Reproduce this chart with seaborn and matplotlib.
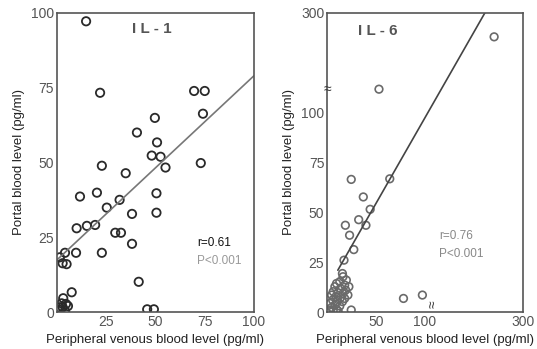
import numpy as np
import pandas as pd
import matplotlib
matplotlib.use("Agg")
import matplotlib.pyplot as plt
import seaborn as sns

sns.set_theme(style="white")
plt.rcParams['font.family'] = ['Liberation Sans', 'DejaVu Sans']

# IL-1 panel (pg/ml)
il1_peripheral = [14.8, 21.9, 69.6, 75.0, 74.1, 49.7, 40.6, 50.8, 48.1, 52.6,
                  22.8, 73.0, 55.1, 34.9, 11.7, 20.3, 31.8, 50.5, 38.1, 50.5,
                  25.3, 10.0, 15.2, 19.4, 29.6, 32.5, 38.1, 4.1, 9.7, 22.8,
                  1.5, 2.9, 4.9, 41.5, 7.5, 3.2, 2.4, 4.6, 1.2, 2.9,
                  5.6, 1.5, 4.1, 45.8, 49.2]
il1_portal = [97.2, 73.3, 73.9, 73.9, 66.3, 64.9, 60.0, 56.7, 52.3, 51.9,
              48.9, 49.8, 48.3, 46.4, 38.6, 39.9, 37.5, 39.7, 32.8, 33.2,
              34.9, 28.0, 28.8, 29.1, 26.5, 26.5, 22.8, 19.8, 19.8, 19.8,
              18.3, 16.3, 16.0, 10.1, 6.6, 4.6, 2.9, 2.7, 1.6, 1.6,
              2.0, 0.7, 0.4, 0.9, 0.9]
il1_fit = (17.4, 0.616)   # intercept, slope
il1_r = "r=0.61"

# IL-6 panel (pg/ml), axes broken above 100
il6_peripheral = [24.7, 64.0, 37.0, 44.0, 32.3, 18.7, 39.7, 23.0, 27.3, 17.3,
                  15.7, 24.7, 78.0, 97.3, 53.0, 241.0,
                  16.3, 19.7, 13.0, 9.7, 18.0, 22.3, 8.0, 13.7, 19.0, 6.3,
                  11.3, 16.3, 21.3, 4.7, 9.0, 13.7, 18.0, 5.7, 10.3, 15.7,
                  3.0, 8.0, 13.0, 4.7, 9.7, 2.3, 6.3, 11.3, 3.0]
il6_portal = [66.5, 66.8, 57.7, 51.5, 46.3, 43.5, 43.5, 38.5, 31.3, 26.0,
              19.3, 1.0, 6.8, 8.5, 147.0, 252.0,
              17.7, 16.0, 15.2, 14.3, 13.5, 12.7, 12.7, 11.8, 11.0, 10.2,
              9.7, 9.3, 8.5, 8.5, 7.7, 7.2, 6.8, 6.0, 5.2, 5.2,
              4.3, 3.5, 3.0, 2.3, 1.3, 1.0, 0.7, 0.5, 0.2]
il6_fit = (11.5, 0.86)    # drawn straight across the broken scale
il6_r = "r=0.76"

x_ticks_il1 = [25, 50, 75, 100]
y_ticks_il1 = [0, 25, 50, 75, 100]
x_ticks_il6 = [50, 100, 300]
y_ticks_il6 = [0, 25, 50, 75, 100, 300]


def brk_x(v):
    v = np.asarray(v, dtype=float)
    return np.where(v <= 100, v, 100 + (v - 100) / 2)


def brk_y(v):
    v = np.asarray(v, dtype=float)
    return np.where(v <= 100, v, 100 + (v - 100) / 4)


TICK = '#555555'
fig = plt.figure(figsize=(5.37, 3.49), dpi=100)
ax1 = fig.add_axes([0.106, 0.106, 0.367, 0.857])
ax2 = fig.add_axes([0.609, 0.106, 0.365, 0.857])

# left panel
df1 = pd.DataFrame({'x': il1_peripheral, 'y': il1_portal})
sns.scatterplot(data=df1, x='x', y='y', ax=ax1, marker='o', s=36,
                facecolor='none', edgecolor='#2a2a2a', linewidth=1.3)
lx = np.array([0, 100])
sns.lineplot(x=lx, y=il1_fit[0] + il1_fit[1] * lx, ax=ax1,
             color='#777777', linewidth=1.2)
ax1.set_xlim(0, 100)
ax1.set_ylim(0, 100)
ax1.set_xticks(x_ticks_il1)
ax1.set_yticks(y_ticks_il1)
ax1.text(0.48, 0.945, 'I L - 1', transform=ax1.transAxes, ha='center',
         va='center', fontsize=11, fontweight='bold', color='#555555')
ax1.text(0.71, 0.22, il1_r, transform=ax1.transAxes, fontsize=8.5,
         color='#111111')
ax1.text(0.71, 0.16, 'P<0.001', transform=ax1.transAxes, fontsize=8.5,
         color='#999999')

# right panel
df2 = pd.DataFrame({'x': brk_x(il6_peripheral), 'y': brk_y(il6_portal)})
sns.scatterplot(data=df2, x='x', y='y', ax=ax2, marker='o', s=30,
                facecolor='none', edgecolor='#6a6a6a', linewidth=1.2)
rx = np.array([11, 200])
sns.lineplot(x=rx, y=il6_fit[0] + il6_fit[1] * rx, ax=ax2,
             color='#444444', linewidth=1.2)
ax2.set_xlim(0, 200)
ax2.set_ylim(0, 150)
ax2.set_xticks(brk_x(x_ticks_il6))
ax2.set_xticklabels([str(t) for t in x_ticks_il6])
ax2.set_yticks(brk_y(y_ticks_il6))
ax2.set_yticklabels([str(t) for t in y_ticks_il6])
ax2.text(0.26, 0.94, 'I L - 6', transform=ax2.transAxes, ha='center',
         va='center', fontsize=11, fontweight='bold', color='#555555')
ax2.text(0.57, 0.245, il6_r, transform=ax2.transAxes, fontsize=8.5,
         color='#888888')
ax2.text(0.57, 0.185, 'P<0.001', transform=ax2.transAxes, fontsize=8.5,
         color='#888888')
# axis break marks
ax2.text(0, brk_y(148), '≈', transform=ax2.get_yaxis_transform(),
         ha='center', va='center', fontsize=10, color='#333333')
ax2.text(brk_x(116), 0.025, '≈', transform=ax2.get_xaxis_transform(),
         ha='center', va='center', fontsize=10, color='#333333', rotation=90)

for ax in (ax1, ax2):
    for sp in ax.spines.values():
        sp.set_color('#555555')
        sp.set_linewidth(1.2)
    ax.tick_params(direction='in', length=5, width=1, colors=TICK,
                   labelsize=10, labelcolor=TICK, pad=2)
    ax.set_xlabel('Peripheral venous blood level (pg/ml)', fontsize=9.5,
                  color='#222222', labelpad=4)
    ax.set_ylabel('Portal blood level (pg/ml)', fontsize=9.5,
                  color='#222222', labelpad=4)

fig.savefig('out.png', dpi=100)
